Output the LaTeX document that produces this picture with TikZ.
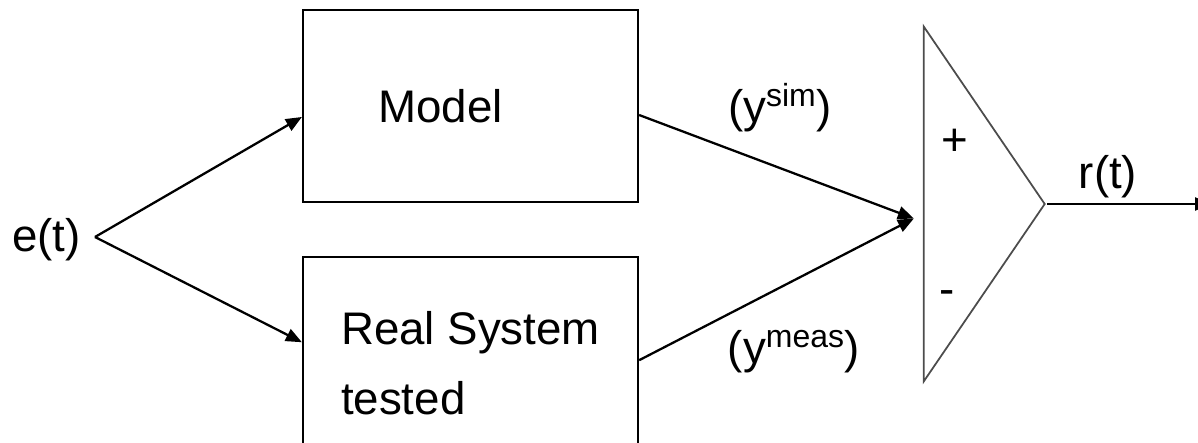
\documentclass[tikz,border=0pt]{standalone}
\usepackage{fontspec}
\setmainfont{Liberation Sans}
\usetikzlibrary{positioning,arrows.meta,shapes.geometric}

\begin{document}
\begin{tikzpicture}[
        x=0.02cm, y=0.02cm,
        every node/.style={font=\fontsize{26}{40}\selectfont},
        block/.style={
            draw,
            line width=1.3pt,
            minimum width=6.7cm,
            align=left,
            inner sep=0pt
        },
        sumtri/.style={
            draw=black!70,
            line width=1pt,
            isosceles triangle,
            isosceles triangle stretches,
            minimum width=7.1cm,
            minimum height=2.42cm,
            inner sep=0pt
        },
        arrow/.style={-{Triangle[length=0.32cm, width=0.26cm]}, line width=1.3pt}
    ]
        \useasboundingbox (0,0) rectangle (1198,443);
        \clip (0,0) rectangle (1198,443);

        \node[block, minimum height=3.84cm] (model) at (470.5,337) {Model\hspace*{1.2cm}};
        \node[block, minimum height=4.24cm, below=1.06cm of model] (real) {Real System\\tested};

        \coordinate (fork) at (95,206);
        \node[left=0.16cm of fork, yshift=-0.06cm] (etxt) {e(t)};

        \node[sumtri, anchor=apex] (sum) at (1047,239) {};
        \coordinate (junc) at ([xshift=-0.18cm, yshift=-0.29cm]sum.west);
        \coordinate (out) at (1211,241);

        \node (ysim) at (780,335) {(y\textsuperscript{sim})};
        \node (ymeas) at (794,91) {(y\textsuperscript{meas})};
        \node (plus) at (955,301) {+};
        \node (minus) at (947,145) {-};
        \node (rt) at (1108,266) {r(t)};

        \draw[arrow] (fork) -- ([yshift=-0.22cm]model.west);
        \draw[arrow] (fork) -- ([yshift=0.42cm]real.west);
        \draw[arrow] ([yshift=-0.18cm]model.east) -- (junc);
        \draw[arrow] ([yshift=0.06cm]real.east) -- (junc);
        \draw[arrow] (sum.apex) -- (sum.apex -| out);
    \end{tikzpicture}
\end{document}
